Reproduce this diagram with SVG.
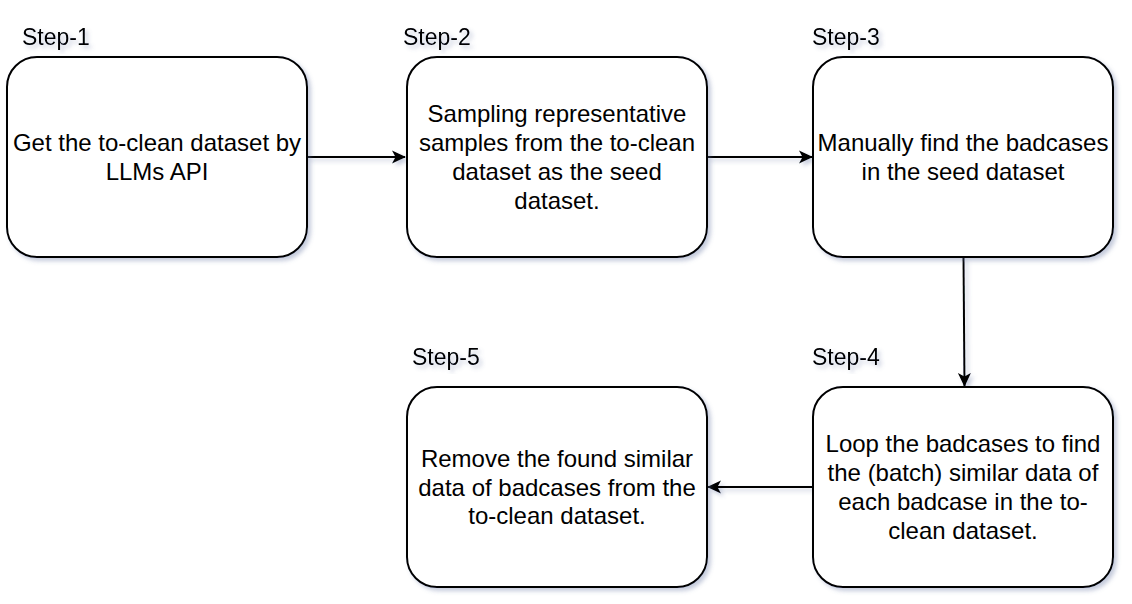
<svg xmlns="http://www.w3.org/2000/svg" width="1132" height="604" viewBox="0 0 1132 604">
<defs>
<filter id="sh" x="-10%" y="-10%" width="125%" height="125%">
<feDropShadow dx="3" dy="3" stdDeviation="2.2" flood-color="#5a6a9a" flood-opacity="0.35"/>
</filter>
<marker id="ah" viewBox="0 0 14 14" refX="13" refY="7" markerWidth="14" markerHeight="14" markerUnits="userSpaceOnUse" orient="auto">
<path d="M0,0.5 L14,7 L0,13.5 L3.5,7 Z" fill="#000"/>
</marker>
</defs>
<style>
.box{fill:#fff;stroke:#000;stroke-width:2}
.t{font-family:"Liberation Sans",Arial,sans-serif;font-size:24px;fill:#000;text-anchor:middle}
.s{font-family:"Liberation Sans",Arial,sans-serif;font-size:23px;fill:#000}
.c{fill:none;stroke:#000;stroke-width:2}
</style>
<rect width="1132" height="604" fill="#fff"/>
<g id="connectors" filter="url(#sh)">
<path class="c" d="M307,157 L405,157" marker-end="url(#ah)"/>
<path class="c" d="M707,157 L812,157" marker-end="url(#ah)"/>
<path class="c" d="M963.5,257 L964.5,386" marker-end="url(#ah)"/>
<path class="c" d="M813,487 L708,487" marker-end="url(#ah)"/>
</g>
<g id="step1">
<text class="s" x="22" y="45" filter="url(#sh)">Step-1</text>
<rect class="box" x="7" y="57" width="300" height="200" rx="30" filter="url(#sh)"/>
<text class="t" x="157" y="151">Get the to-clean dataset by</text>
<text class="t" x="157" y="180">LLMs API</text>
</g>
<g id="step2">
<text class="s" x="403" y="45" filter="url(#sh)">Step-2</text>
<rect class="box" x="407" y="57" width="300" height="200" rx="30" filter="url(#sh)"/>
<text class="t" x="557" y="122">Sampling representative</text>
<text class="t" x="557" y="151">samples from the to-clean</text>
<text class="t" x="557" y="180">dataset as the seed</text>
<text class="t" x="557" y="209">dataset.</text>
</g>
<g id="step3">
<text class="s" x="812" y="45" filter="url(#sh)">Step-3</text>
<rect class="box" x="813" y="57" width="300" height="200" rx="30" filter="url(#sh)"/>
<text class="t" x="963" y="151">Manually find the badcases</text>
<text class="t" x="963" y="180">in the seed dataset</text>
</g>
<g id="step4">
<text class="s" x="812" y="365" filter="url(#sh)">Step-4</text>
<rect class="box" x="813" y="387" width="300" height="200" rx="30" filter="url(#sh)"/>
<text class="t" x="963" y="452">Loop the badcases to find</text>
<text class="t" x="963" y="481">the (batch) similar data of</text>
<text class="t" x="963" y="510">each badcase in the to-</text>
<text class="t" x="963" y="539">clean dataset.</text>
</g>
<g id="step5">
<text class="s" x="412" y="365" filter="url(#sh)">Step-5</text>
<rect class="box" x="407" y="387" width="300" height="200" rx="30" filter="url(#sh)"/>
<text class="t" x="557" y="467">Remove the found similar</text>
<text class="t" x="557" y="496">data of badcases from the</text>
<text class="t" x="557" y="524">to-clean dataset.</text>
</g>
</svg>
